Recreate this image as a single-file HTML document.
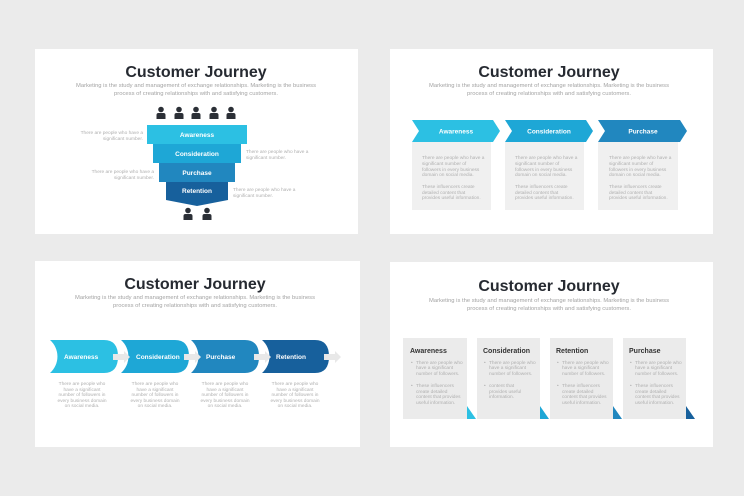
<!DOCTYPE html>
<html><head><meta charset="utf-8"><style>
html,body{margin:0;padding:0;background:#ebebeb;width:744px;height:496px;overflow:hidden}
svg{display:block}
text{font-family:"Liberation Sans",sans-serif}
.t{font-weight:bold;font-size:16px;fill:#262a31;text-anchor:middle}
.s{font-size:5.4px;fill:#a3a3a3;text-anchor:middle}
.w{font-weight:bold;font-size:6.5px;fill:#fff}
.g{font-size:4.8px;fill:#b0b0b0}
.h{font-weight:bold;font-size:7px;fill:#333}
</style></head><body>
<svg width="744" height="496" viewBox="0 0 744 496" xmlns="http://www.w3.org/2000/svg">
<defs>
<g id="p"><circle cx="0" cy="-3.5" r="2.8" fill="#2b2f36"/><path d="M-4.5,6 L-4.5,2 Q-4.5,0 -2.5,0 L2.5,0 Q4.5,0 4.5,2 L4.5,6 Z" fill="#2b2f36"/></g>
</defs>
<rect x="35" y="49" width="323" height="185" fill="#fff"/>
<rect x="390" y="49" width="323" height="185" fill="#fff"/>
<rect x="35" y="261" width="325" height="186" fill="#fff"/>
<rect x="390" y="262" width="323" height="185" fill="#fff"/>

<!-- Slide 1 -->
<text class="t" x="196" y="77">Customer Journey</text>
<text class="s" x="196" y="87" textLength="240" lengthAdjust="spacingAndGlyphs">Marketing is the study and management of exchange relationships. Marketing is the business</text>
<text class="s" x="196" y="95" textLength="164" lengthAdjust="spacingAndGlyphs">process of creating relationships with and satisfying customers.</text>
<use href="#p" x="161" y="113"/><use href="#p" x="179" y="113"/><use href="#p" x="196" y="113"/><use href="#p" x="214" y="113"/><use href="#p" x="231" y="113"/>
<rect x="147" y="125" width="100" height="19" fill="#2cc0e3"/>
<rect x="153" y="144" width="88" height="19" fill="#1ea7d6"/>
<rect x="159" y="163" width="76" height="19" fill="#2187bf"/>
<path d="M166,182 L228,182 L228,200 L197,206 L166,200 Z" fill="#17609c"/>
<text class="w" x="197" y="137" text-anchor="middle">Awareness</text>
<text class="w" x="197" y="156" text-anchor="middle">Consideration</text>
<text class="w" x="197" y="175" text-anchor="middle">Purchase</text>
<text class="w" x="197" y="193" text-anchor="middle">Retention</text>
<use href="#p" x="188" y="214"/><use href="#p" x="207" y="214"/>
<text class="g" x="143" y="134" text-anchor="end">There are people who have a</text>
<text class="g" x="143" y="140" text-anchor="end">significant number.</text>
<text class="g" x="246" y="153">There are people who have a</text>
<text class="g" x="246" y="159">significant number.</text>
<text class="g" x="154" y="173" text-anchor="end">There are people who have a</text>
<text class="g" x="154" y="179" text-anchor="end">significant number.</text>
<text class="g" x="233" y="191">There are people who have a</text>
<text class="g" x="233" y="197">significant number.</text>

<!-- Slide 2 -->
<text class="t" x="549" y="77">Customer Journey</text>
<text class="s" x="549" y="87" textLength="240" lengthAdjust="spacingAndGlyphs">Marketing is the study and management of exchange relationships. Marketing is the business</text>
<text class="s" x="549" y="95" textLength="164" lengthAdjust="spacingAndGlyphs">process of creating relationships with and satisfying customers.</text>
<g>
<rect x="412" y="142" width="79" height="68" fill="#f0f0f0"/>
<rect x="505" y="142" width="79" height="68" fill="#f0f0f0"/>
<rect x="598" y="142" width="80" height="68" fill="#f0f0f0"/>
<path d="M412,120 L493,120 L500,131 L493,142 L412,142 L419,131 Z" fill="#2cc0e3"/>
<path d="M505,120 L586,120 L593,131 L586,142 L505,142 L512,131 Z" fill="#1ea7d6"/>
<path d="M598,120 L680,120 L687,131 L680,142 L598,142 L605,131 Z" fill="#2187bf"/>
<text class="w" x="456" y="133.5" text-anchor="middle">Awareness</text>
<text class="w" x="549" y="133.5" text-anchor="middle">Consideration</text>
<text class="w" x="643" y="133.5" text-anchor="middle">Purchase</text>
</g>
<g class="g">
<text class="g" x="422" y="159">There are people who have a</text><text class="g" x="422" y="165">significant number of</text><text class="g" x="422" y="171">followers in every business</text><text class="g" x="422" y="176">domain on social media.</text>
<text class="g" x="422" y="188">These influencers create</text><text class="g" x="422" y="194">detailed content that</text><text class="g" x="422" y="199">provides useful information.</text>
<text class="g" x="515" y="159">There are people who have a</text><text class="g" x="515" y="165">significant number of</text><text class="g" x="515" y="171">followers in every business</text><text class="g" x="515" y="176">domain on social media.</text>
<text class="g" x="515" y="188">These influencers create</text><text class="g" x="515" y="194">detailed content that</text><text class="g" x="515" y="199">provides useful information.</text>
<text class="g" x="609" y="159">There are people who have a</text><text class="g" x="609" y="165">significant number of</text><text class="g" x="609" y="171">followers in every business</text><text class="g" x="609" y="176">domain on social media.</text>
<text class="g" x="609" y="188">These influencers create</text><text class="g" x="609" y="194">detailed content that</text><text class="g" x="609" y="199">provides useful information.</text>
</g>

<!-- Slide 3 -->
<text class="t" x="195" y="289">Customer Journey</text>
<text class="s" x="195" y="299" textLength="240" lengthAdjust="spacingAndGlyphs">Marketing is the study and management of exchange relationships. Marketing is the business</text>
<text class="s" x="195" y="307" textLength="164" lengthAdjust="spacingAndGlyphs">process of creating relationships with and satisfying customers.</text>
<path d="M50,340 L104,340 Q118,340 118,356.5 Q118,373 104,373 L50,373 A22,22 0 0 0 50,340 Z" fill="#2cc0e3"/>
<path d="M121,340 L175,340 Q189,340 189,356.5 Q189,373 175,373 L121,373 A22,22 0 0 0 121,340 Z" fill="#1ea7d6"/>
<path d="M191,340 L245,340 Q259,340 259,356.5 Q259,373 245,373 L191,373 A22,22 0 0 0 191,340 Z" fill="#2187bf"/>
<path d="M262,340 L315,340 Q329,340 329,356.5 Q329,373 315,373 L262,373 A22,22 0 0 0 262,340 Z" fill="#17609c"/>
<g fill="#e8e8e8">
<path d="M113,354 L124,354 L124,351 L130,357 L124,363 L124,360 L113,360 Z"/>
<path d="M184,354 L195,354 L195,351 L201,357 L195,363 L195,360 L184,360 Z"/>
<path d="M254,354 L265,354 L265,351 L271,357 L265,363 L265,360 L254,360 Z"/>
<path d="M324,354 L335,354 L335,351 L341,357 L335,363 L335,360 L324,360 Z"/>
</g>
<text class="w" x="64" y="359">Awareness</text>
<text class="w" x="136" y="359">Consideration</text>
<text class="w" x="206" y="359">Purchase</text>
<text class="w" x="276" y="359">Retention</text>
<g text-anchor="middle">
<text class="g" x="82" y="385" text-anchor="middle">There are people who</text><text class="g" x="82" y="391" text-anchor="middle">have a significant</text><text class="g" x="82" y="396" text-anchor="middle">number of followers in</text><text class="g" x="82" y="402" text-anchor="middle">every business domain</text><text class="g" x="82" y="407" text-anchor="middle">on social media.</text>
<text class="g" x="155" y="385" text-anchor="middle">There are people who</text><text class="g" x="155" y="391" text-anchor="middle">have a significant</text><text class="g" x="155" y="396" text-anchor="middle">number of followers in</text><text class="g" x="155" y="402" text-anchor="middle">every business domain</text><text class="g" x="155" y="407" text-anchor="middle">on social media.</text>
<text class="g" x="225" y="385" text-anchor="middle">There are people who</text><text class="g" x="225" y="391" text-anchor="middle">have a significant</text><text class="g" x="225" y="396" text-anchor="middle">number of followers in</text><text class="g" x="225" y="402" text-anchor="middle">every business domain</text><text class="g" x="225" y="407" text-anchor="middle">on social media.</text>
<text class="g" x="295" y="385" text-anchor="middle">There are people who</text><text class="g" x="295" y="391" text-anchor="middle">have a significant</text><text class="g" x="295" y="396" text-anchor="middle">number of followers in</text><text class="g" x="295" y="402" text-anchor="middle">every business domain</text><text class="g" x="295" y="407" text-anchor="middle">on social media.</text>
</g>

<!-- Slide 4 -->
<text class="t" x="549" y="291">Customer Journey</text>
<text class="s" x="549" y="302" textLength="240" lengthAdjust="spacingAndGlyphs">Marketing is the study and management of exchange relationships. Marketing is the business</text>
<text class="s" x="549" y="310" textLength="164" lengthAdjust="spacingAndGlyphs">process of creating relationships with and satisfying customers.</text>
<rect x="403" y="338" width="64" height="81" fill="#ebebeb"/>
<rect x="477" y="338" width="63" height="81" fill="#ebebeb"/>
<rect x="550" y="338" width="63" height="81" fill="#ebebeb"/>
<rect x="623" y="338" width="63" height="81" fill="#ebebeb"/>
<path d="M467,406 L476,419 L467,419 Z" fill="#2cc0e3"/>
<path d="M540,406 L549,419 L540,419 Z" fill="#1ea7d6"/>
<path d="M613,406 L622,419 L613,419 Z" fill="#2187bf"/>
<path d="M686,406 L695,419 L686,419 Z" fill="#17609c"/>
<text class="h" x="410" y="353">Awareness</text>
<text class="h" x="483" y="353">Consideration</text>
<text class="h" x="556" y="353">Retention</text>
<text class="h" x="629" y="353">Purchase</text>
<text class="g" x="411" y="364">•</text><text class="g" x="416" y="364">There are people who</text><text class="g" x="416" y="369">have a significant</text><text class="g" x="416" y="375">number of followers.</text>
<text class="g" x="411" y="387">•</text><text class="g" x="416" y="387">These influencers</text><text class="g" x="416" y="393">create detailed</text><text class="g" x="416" y="398">content that provides</text><text class="g" x="416" y="404">useful information.</text>
<text class="g" x="484" y="364">•</text><text class="g" x="489" y="364">There are people who</text><text class="g" x="489" y="369">have a significant</text><text class="g" x="489" y="375">number of followers.</text>
<text class="g" x="484" y="387">•</text><text class="g" x="489" y="387">content that</text><text class="g" x="489" y="393">provides useful</text><text class="g" x="489" y="398">information.</text>
<text class="g" x="557" y="364">•</text><text class="g" x="562" y="364">There are people who</text><text class="g" x="562" y="369">have a significant</text><text class="g" x="562" y="375">number of followers.</text>
<text class="g" x="557" y="387">•</text><text class="g" x="562" y="387">These influencers</text><text class="g" x="562" y="393">create detailed</text><text class="g" x="562" y="398">content that provides</text><text class="g" x="562" y="404">useful information.</text>
<text class="g" x="630" y="364">•</text><text class="g" x="635" y="364">There are people who</text><text class="g" x="635" y="369">have a significant</text><text class="g" x="635" y="375">number of followers.</text>
<text class="g" x="630" y="387">•</text><text class="g" x="635" y="387">These influencers</text><text class="g" x="635" y="393">create detailed</text><text class="g" x="635" y="398">content that provides</text><text class="g" x="635" y="404">useful information.</text>
</svg>
</body></html>
